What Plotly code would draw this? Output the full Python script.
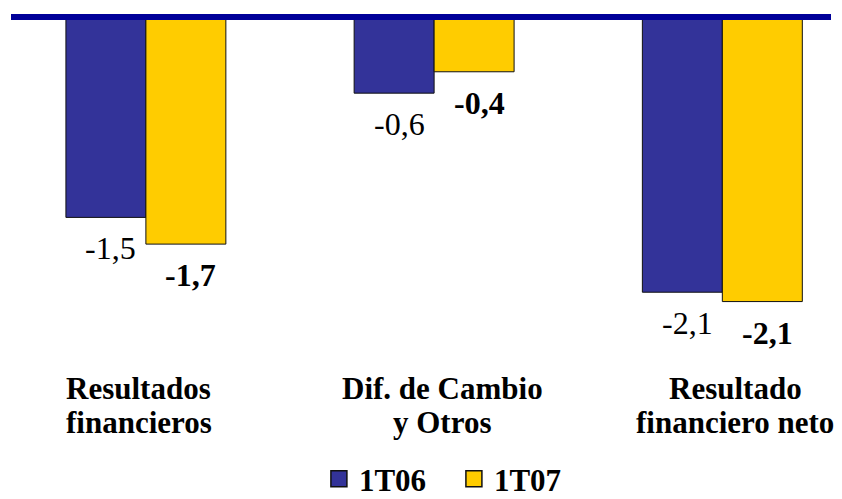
import plotly.graph_objects as go

# ---- data ----
categories = ["Resultados financieros", "Dif. de Cambio y Otros", "Resultado financiero neto"]
category_lines = [["Resultados", "financieros"], ["Dif. de Cambio", "y Otros"], ["Resultado", "financiero neto"]]
series_names = ["1T06", "1T07"]
values_1t06 = [-1.5, -0.57, -2.06]
values_1t07 = [-1.7, -0.41, -2.13]

# ---- style ----
BLUE = "#333399"
YELLOW = "#FFCC00"
AXIS = "#000099"
EDGE = "#111111"
FONT = "Liberation Serif, Times New Roman, serif"
label_xshift = [-7, 8, 13]


def fmt(v):
    return f"{v:.1f}".replace(".", ",")


fig = go.Figure()
series = [(series_names[0], values_1t06, BLUE, False, -35),
          (series_names[1], values_1t07, YELLOW, True, 45)]

for name, vals, color, bold, xs in series:
    fig.add_trace(go.Bar(
        x=categories, y=vals, name=name, legendgroup=name, showlegend=False,
        marker=dict(color=color, line=dict(color=EDGE, width=1)),
        hoverinfo="skip",
    ))
    fig.add_trace(go.Scatter(
        x=[None], y=[None], mode="markers", name=name, legendgroup=name,
        marker=dict(symbol="square", size=16, color=color, line=dict(color=EDGE, width=1.5)),
    ))
    for c, v in zip(categories, vals):
        t = fmt(v)
        if bold:
            t = f"<b>{t}</b>"
        fig.add_annotation(x=c, y=v, xref="x", yref="y", text=t, showarrow=False,
                           xshift=xs, yshift=-31, yanchor="middle", xanchor="center",
                           font=dict(family=FONT, size=32, color="#000000"))

# category labels
for c, lines, xs in zip(categories, category_lines, label_xshift):
    for line, yp in zip(lines, [-0.111, -0.212]):
        fig.add_annotation(x=c, xref="x", y=yp, yref="paper", text=f"<b>{line}</b>",
                           showarrow=False, xshift=xs, yanchor="middle", xanchor="center",
                           font=dict(family=FONT, size=31, color="#000000"))

# top axis line
fig.add_shape(type="line", xref="paper", yref="y", x0=0, x1=1, y0=0, y1=0,
              line=dict(color=AXIS, width=6), layer="above")

fig.update_layout(
    width=842, height=499,
    margin=dict(l=11, r=11, t=14, b=148, autoexpand=False),
    paper_bgcolor="white", plot_bgcolor="white",
    barmode="group", bargap=0.445, bargroupgap=0,
    xaxis=dict(range=[-0.468, 2.377], showticklabels=False, showgrid=False,
               zeroline=False, showline=False, ticks=""),
    yaxis=dict(range=[-2.5, 0.0225], visible=False, showgrid=False, zeroline=False),
    showlegend=True,
    legend=dict(orientation="h", x=0.3755, xanchor="left", y=-0.30, yanchor="top",
                font=dict(family=FONT, size=31, color="#000000", weight="bold"),
                entrywidth=90, bgcolor="rgba(0,0,0,0)"),
    font=dict(family=FONT),
)

fig.write_html("out.html", config={"displayModeBar": False},
               post_script="document.body.style.margin='0';document.body.style.overflow='hidden';")
